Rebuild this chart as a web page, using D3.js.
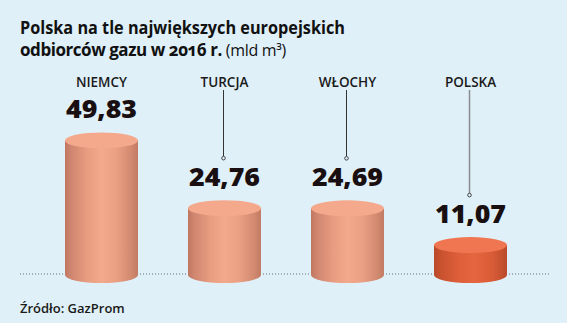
<!DOCTYPE html>
<html>
<head>
<meta charset="utf-8">
<script src="https://cdn.jsdelivr.net/npm/d3@7"></script>
<style>
  html, body { margin: 0; padding: 0; background: #dff0f9; }
  svg { display: block; }
  text { font-family: "Open Sans", Lato, sans-serif; }
</style>
</head>
<body>
<script>
// Natural gas consumption, 2016 (bn m³)
const countries = ["NIEMCY", "TURCJA", "WŁOCHY", "POLSKA"];
const values = [49.83, 24.76, 24.69, 11.07];
const valueLabels = ["49,83", "24,76", "24,69", "11,07"];
const highlight = ["POLSKA"];
const titleLines = ["Polska na tle największych europejskich", "odbiorców gazu w 2016 r."];
const unitLabel = "(mld m³)";
const sourceLabel = "Źródło: GazProm";

const W = 567, H = 323;
const baseY = 275;
const rx = 36.5, ry = 8;

const svg = d3.select("body").append("svg").attr("width", W).attr("height", H);
svg.append("rect").attr("width", W).attr("height", H).attr("fill", "#dff0f9");

const x = d3.scaleBand().domain(countries).range([40, 532]);
const y = d3.scaleLinear().domain([0, 50]).range([baseY, baseY - 135]);

// gradients for the cylinder bodies
const defs = svg.append("defs");
function grad(id, stops) {
  const g = defs.append("linearGradient").attr("id", id)
    .attr("x1", "0%").attr("x2", "100%").attr("y1", "0%").attr("y2", "0%");
  stops.forEach(([o, c]) => g.append("stop").attr("offset", o).attr("stop-color", c));
}
grad("peach", [["0%", "#c07762"], ["8%", "#cf8670"], ["30%", "#e89c80"], ["50%", "#f3a98c"], ["70%", "#eba084"], ["90%", "#d28a70"], ["100%", "#c27b64"]]);
grad("orange", [["0%", "#b84a2b"], ["10%", "#c9522f"], ["35%", "#df5f3a"], ["55%", "#e5653f"], ["80%", "#d85c37"], ["100%", "#b94b2b"]]);

// title
const title = svg.append("g").attr("fill", "#111");
title.append("text").attr("x", 20).attr("y", 33.5)
  .attr("font-size", 17.5).attr("font-weight", 700)
  .attr("textLength", 325).attr("lengthAdjust", "spacingAndGlyphs")
  .text(titleLines[0]);
const line2 = title.append("text").attr("x", 20).attr("y", 55.5)
  .style("font-variant-numeric", "oldstyle-nums");
line2.append("tspan").attr("font-size", 17).attr("font-weight", 700)
  .attr("letter-spacing", -0.45).text(titleLines[1] + " ");
line2.append("tspan").attr("font-size", 16).attr("font-weight", 400)
  .attr("letter-spacing", -0.3).text(unitLabel);

// dotted baseline
svg.append("line").attr("x1", 20).attr("x2", 550).attr("y1", baseY - 1).attr("y2", baseY - 1)
  .attr("stroke", "#6a6f73").attr("stroke-width", 1).attr("stroke-dasharray", "1,2");

const data = countries.map((c, i) => ({ c, v: values[i], label: valueLabels[i] }));
const cxOf = d => x(d.c) + x.bandwidth() / 2;

const bars = svg.append("g").selectAll("g").data(data).join("g");

bars.append("path")
  .attr("d", d => {
    const cx = cxOf(d), top = y(d.v);
    return `M${cx - rx},${top} L${cx - rx},${baseY} A${rx},${ry} 0 0 0 ${cx + rx},${baseY} L${cx + rx},${top} Z`;
  })
  .attr("fill", d => highlight.includes(d.c) ? "url(#orange)" : "url(#peach)");

bars.append("ellipse")
  .attr("cx", cxOf)
  .attr("cy", d => y(d.v))
  .attr("rx", rx).attr("ry", ry)
  .attr("fill", d => highlight.includes(d.c) ? "#ef7650" : "#f5a98c");

// category names
bars.append("text")
  .attr("x", cxOf)
  .attr("y", 87)
  .attr("text-anchor", "middle")
  .attr("font-size", 13.5).attr("font-weight", 600).attr("fill", "#1a1a1a")
  .text(d => d.c);

// value labels sit just above each cylinder top
const valueBase = d => y(d.v) - ry - 14;
bars.append("text")
  .attr("x", cxOf)
  .attr("y", valueBase)
  .attr("text-anchor", "middle")
  .attr("font-size", 25).attr("font-weight", 800).attr("fill", "#1a0f10")
  .attr("textLength", 71).attr("lengthAdjust", "spacingAndGlyphs")
  .text(d => d.label);

// leader lines from names down to the values
const leaders = bars.filter(d => valueBase(d) - 28 > 100);
leaders.append("line")
  .attr("x1", d => cxOf(d) - 1)
  .attr("x2", d => cxOf(d) - 1)
  .attr("y1", 90)
  .attr("y2", d => valueBase(d) - 30)
  .attr("stroke", d => highlight.includes(d.c) ? "#8a8d90" : "#333")
  .attr("stroke-width", d => highlight.includes(d.c) ? 1.5 : 1);
leaders.append("circle")
  .attr("cx", d => cxOf(d) - 1)
  .attr("cy", d => valueBase(d) - 28)
  .attr("r", 1.8)
  .attr("fill", "#dff0f9").attr("stroke", "#333").attr("stroke-width", 0.9);

// source
svg.append("text").attr("x", 20).attr("y", 313)
  .attr("font-size", 13).attr("font-weight", 600).attr("fill", "#1a1a1a")
  .text(sourceLabel);
</script>
</body>
</html>
